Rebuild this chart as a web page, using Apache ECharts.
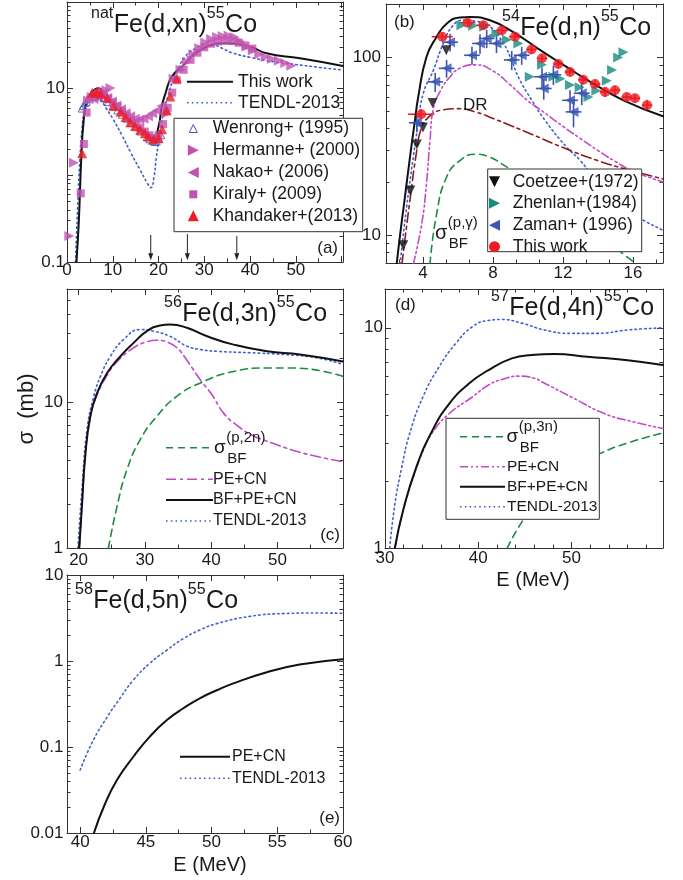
<!DOCTYPE html>
<html><head><meta charset="utf-8">
<script src="https://cdn.jsdelivr.net/npm/echarts@6/dist/echarts.min.js"></script>
<style>html,body{margin:0;padding:0;background:#fff}#chart{width:683px;height:880px}</style>
</head><body><div id="chart"></div>
<script>
// ---------- (a) natFe(d,xn)55Co ----------
const aThisE = [2.07,2.6,3.1,3.66,4.4,5.5,6.8,8.76,11.66,14.55,17.5,18.9,20.0,20.7,21.5,22.9,25.1,29.1,34.9,40,43.6,50.9,60.3];
const aThisS = [0.1,0.31,1.5,4.4,7.4,9.25,10.1,8.1,5.7,4.0,3.05,2.68,3.65,6.2,8.8,13.8,17.9,27.9,33.4,30.5,25.6,22.4,18.3];
const aTendlE = [1.85,2.3,2.8,3.3,3.8,4.5,5.5,6.5,7.5,8.5,10,12,14,16,17.5,18.3,19,19.5,20,20.5,21,22,23,24,26,28,30,32,34,36,40,45,50,55,60.3];
const aTendlS = [0.1,0.4,1.5,3.5,5.5,7,8,8,7.2,6,4.5,2.9,1.8,1.15,0.82,0.72,0.95,1.6,2.4,3.5,5,8,12,16,24,29,31.5,31.5,29,26,23,20.5,19,17.6,16.4];
const wenrong = [[3.2,5.9],[3.5,6.3],[3.9,6.8],[4.3,7.0],[6,8.0],[7,8.2],[8,7.8],[9,7.0],[10,6.3],[11,5.6],[12,5.0],[13,4.5],[14,4.0],[15,3.6],[16,3.2],[17.4,2.75],[18.0,2.6],[18.6,2.5],[19.1,2.42],[19.6,2.45],[20.1,2.6],[20.6,2.9]];
const hermanne = [[0.5,0.2],[1.5,1.4],[4.6,7.3],[5.4,8.0],[6.2,8.2],[7.0,8.6],[7.8,9.2],[8.6,9.6],[9.5,10.2],[21.8,5.2],[23.3,13.0],[24.8,16.5],[26.2,20.5],[27.6,25.0],[28.9,29.5],[30.2,34.0],[31.5,37.5],[32.8,39.5],[34.0,40.5],[35.3,41.0],[36.6,39.5],[37.9,35.0],[39.2,30.5],[40.6,27.5],[42.0,25.0],[43.4,23.2],[44.8,22.0],[46.3,21.0],[47.7,19.8],[49.0,18.4]];
const nakao = [[5.8,7.6],[6.8,8.2],[7.8,8.3],[8.8,7.8],[9.8,7.1],[10.8,6.4],[11.8,5.8],[12.8,5.2],[13.8,4.8],[14.8,4.5],[15.8,4.4],[16.7,4.5],[17.7,4.8],[18.6,5.2],[19.6,5.6],[20.6,6.3]];
const kiraly = [[3.0,0.62],[3.7,2.3],[4.3,5.3],[5.0,7.5],[6.0,8.4],[7.0,8.8],[8.0,8.5],[9.0,7.7],[10.0,6.9],[11.0,6.2],[12.0,5.5],[13.0,4.9],[14.0,4.4],[15.0,3.95],[16.0,3.55],[17.0,3.2],[18.0,2.9],[19.0,2.7],[20.0,2.9],[21.0,3.9],[22.0,6.0],[23.0,9.0],[24.0,12.5],[25.5,16.5],[27.0,21.5],[28.5,26],[30.0,30],[31.5,33],[33.0,35],[34.5,36],[36.0,35.5],[37.5,34],[39.0,31.5],[40.5,29]];
const khandaker = [[3.3,1.8],[5.5,9.0],[6.5,9.2],[7.4,8.8],[8.8,7.8],[10.2,6.3],[11.7,5.4],[12.8,4.7],[13.8,4.1],[14.9,3.7],[16.0,3.35],[17.0,3.05],[17.8,2.8],[18.9,2.6],[20.0,2.7],[20.8,3.4],[21.8,5.6],[22.6,8.1],[24.0,13.2]];
const arrowE = [18.3, 26.3, 37.1];
const arrowTop = [0.206, 0.21, 0.2];
const arrowBottom = [0.105, 0.105, 0.105];

// ---------- (b) 54Fe(d,n)55Co ----------
const bThisE = [2.5,2.69,2.97,3.26,3.54,3.73,4.2,4.78,5.35,6.1,6.69,7.83,9.16,10.7,12.2,13.73,15.45,17.71];
const bThisS = [6.9,10,16.4,27.6,44,60,100.8,130.6,155,168,169,162,139,110,88.6,71.4,57.5,46.8];
const bTendlE = [2.69,3.07,3.45,3.73,4.02,4.6,5.16,5.73,6.3,7.0,7.83,8.6,9.0,9.5,10.2,11.0,12.2,13.0,14.5,16.0,17.71];
const bTendlS = [6.9,14.5,27.6,42.5,63,85,120,152,162,160,149,120,100,76,58,44,31.4,26.3,17.2,13.2,10.7];
const bDrE = [2.8,3.0,3.3,3.6,3.9,4.3,5.0,6.0,7.0,8.0,9.0,10.0,12.0,14.0,16.0,17.71];
const bDrS = [6.9,10,17,28,40,46,50.5,51.6,49.5,45.5,41.5,37.8,31.2,26.3,23.0,20.8];
const bPeE = [3.45,3.93,4.2,4.4,4.6,5.0,5.5,6.1,7.0,8.0,9.0,10.0,10.7,12.0,13.0,14.0,15.0,16.0,17.71];
const bPeS = [6.9,11.6,19.5,34,52,65,77,87,91,84,70,57,51,41,35,30,26,23,20];
const bBfE = [4.4,4.78,5.35,6.1,7.0,7.8,8.8,10,11,12,13,14,15,16.1];
const bBfS = [6.9,13.2,21.3,26.3,28.6,27.6,24.2,20.5,17.5,14.5,12,10,8.5,7.0];
const coetzee = [[2.88,8.8],[3.28,17.9],[3.65,32.4],[4.0,40.5],[4.55,55.5],[5.33,110]];
const zhenlan = [[6.2,152],[6.87,151],[7.5,149],[8.2,136],[8.8,126],[9.45,120],[10.1,78],[10.8,91],[11.45,78],[11.85,76],[12.4,70],[12.95,68],[13.45,60],[13.9,65],[14.5,74],[14.8,85],[15.15,100],[15.45,107]];
// [E, sigma, dE, dSigma]
const zaman = [[3.65,43,0.45,5],[4.7,73,0.45,9],[5.35,87,0.45,10],[5.55,122,0.45,14],[6.8,103,0.45,12],[7.26,120,0.45,15],[7.64,128,0.45,15],[8.2,120,0.45,14],[9.07,97,0.45,12],[9.64,103,0.45,12],[10.8,78,0.45,10],[10.9,67,0.45,9],[11.45,80,0.45,10],[12.4,57.5,0.45,8],[12.6,49.5,0.45,9],[13.07,63,0.45,9]];
const thisWorkB = [[3.9,48,0.75,3],[5.1,131,0.6,7],[6.55,157,0.45,8],[7.45,152,0.4,7],[8.5,142,0.35,7],[9.26,131,0.35,6],[10.2,111,0.3,6],[10.8,99,0.3,5],[11.73,92,0.3,5],[12.4,83,0.3,4],[13.16,75,0.3,4],[13.83,71,0.3,4],[14.4,64,0.3,4],[14.97,65.5,0.3,4],[15.64,60,0.3,3],[16.11,59,0.3,3],[16.8,54,0.3,4]];

// ---------- (c) 56Fe(d,3n)55Co ----------
const cTotE = [20.1,20.5,21,21.76,22.8,24.3,26.3,28.3,30.3,32.3,33.8,36.35,39.4,43.4,48.4,53.4,59.9];
const cTotS = [1,1.93,4.26,8.0,11.6,15.9,20.7,25.6,30.8,33.7,34.2,32.5,28.4,24.9,22.4,21.3,19.1];
const cPeE = [20.1,20.5,21,21.76,22.8,24.3,25.8,28.3,30,31.8,33.5,34.8,36,37.3,38.6,40,42,44,46,48,50,53,56,59.9];
const cPeS = [1,1.93,4.2,7.9,11.3,15.3,19.0,23.7,25.8,26.7,25.8,23.8,20.5,16.8,13.8,11.5,8.3,6.9,6.0,5.5,5.1,4.6,4.25,3.9];
const cBfE = [24.5,25.8,27.3,29.3,31.8,34.8,38.4,43.4,48.4,52.4,59.9];
const cBfS = [1,1.93,3.45,5.55,8.0,11.0,13.6,16.3,17.2,17.2,15.1];
const cTendlE = [19.9,20.5,21.27,22.3,23.3,24.8,26.8,29.3,31.3,33.8,36.35,38.5,40.9,45.9,50.9,56,59.9];
const cTendlS = [1,2.5,6.5,11,15.1,20.7,27,31.6,30.8,28.4,24.3,23,22.4,21.9,21.3,20.2,18.2];

// ---------- (d) 57Fe(d,4n)55Co ----------
const dTendlE = [30.5,31.06,31.8,32.65,34.06,35.8,37.6,39.36,41.1,42.5,44.67,47.1,49.97,52.8,56,59.8];
const dTendlS = [1,1.58,2.33,3.31,4.85,6.65,8.5,10.1,10.8,10.9,10.5,9.77,9.43,9.43,9.77,10.0];
const dTotE = [31.06,31.94,33.36,35.1,36.9,39.0,41.1,43.6,45.7,48.2,51.7,56,59.8];
const dTotS = [1,1.48,2.33,3.43,4.53,5.58,6.43,7.26,7.52,7.6,7.38,7.13,6.77];
const dPeE = [31.06,31.94,33.36,34.06,35.1,36.9,39.36,41.1,42.7,44.3,46,47.1,49.97,53.5,56.5,59.8];
const dPeS = [1,1.48,2.3,2.75,3.35,4.08,4.85,5.5,5.85,6.03,5.9,5.6,4.85,4.08,3.75,3.49];
const dBfE = [43.1,45.0,47,49,51,53.1,56,59.8];
const dBfS = [1,1.38,1.75,2.1,2.4,2.69,3.0,3.33];

// ---------- (e) 58Fe(d,5n)55Co ----------
const eTendlE = [40,41,42.03,43.04,44.05,45.3,46.6,47.85,49.1,50.4,52.9,55.5,58,60];
const eTendlS = [0.054,0.12,0.22,0.37,0.6,0.94,1.34,1.82,2.29,2.72,3.3,3.56,3.62,3.58];
const ePeE = [41.05,41.8,42.8,44.05,45.3,46.6,47.85,49.1,50.4,51.66,54.2,56.7,60];
const ePeS = [0.01,0.0202,0.0413,0.077,0.132,0.206,0.282,0.368,0.457,0.55,0.74,0.91,1.05];

// ---------- axis ticks ----------
const aXLabels = [0,10,20,30,40,50];
const bXLabels = [4,8,12,16];
const cXLabels = [20,30,40,50];
const dXLabels = [30,40,50];
const eXLabels = [40,45,50,55,60];
const aYLabels = [0.1,10];
const bYLabels = [10,100];
const cYLabels = [1,10];
const dYLabels = [1,10];
const eYLabels = [0.01,0.1,1,10];

// ---------- styling ----------
const FONT = '"Liberation Sans", Arial, Helvetica, sans-serif';
const INK = '#1a1a1a';
const AXC = '#333';
const C = {
  black: '#111', tendl: '#3f5fd0', green: '#1c8a44', pe: '#c24cc4', dr: '#8a1b1b',
  mag: '#c252b2', red: '#ee1c24', teal: '#178b80', zaman: '#3a55b4'
};
const DOT = [1.6, 3.2], DASH = [7, 5], DASHDOT = [10, 4, 3, 4], DASHDOTDOT = [8, 3, 2, 3, 2, 3];

const range = (a, b, s) => { const r = []; for (let v = a; v <= b + 1e-9; v += s) r.push(+v.toFixed(6)); return r; };
const logMinor = (lo, hi) => { const r = []; for (let e = -3; e <= 3; e++) for (let m = 2; m <= 9; m++) { const v = +(m * Math.pow(10, e)).toPrecision(6); if (v > lo && v < hi) r.push(v); } return r; };
const decades = (lo, hi) => { const r = []; for (let e = -3; e <= 3; e++) { const v = +Math.pow(10, e).toPrecision(6); if (v >= lo && v <= hi) r.push(v); } return r; };
const minorBetween = (lo, hi, step, majors) => range(Math.ceil(lo / step) * step, hi, step).filter(v => !majors.some(m => Math.abs(m - v) < 1e-6));

const panels = {
  a: { grid: {left: 67, top: 2, width: 276, height: 260},
       x: {min: 0, max: 60.3, major: range(0, 60, 10), minor: range(5, 55, 10), labels: aXLabels, margin: 0},
       y: {min: 0.1, max: 100, labels: aYLabels, margin: 2} },
  b: { grid: {left: 386, top: 4, width: 277, height: 259},
       x: {min: 1.89, max: 17.71, major: [4,8,12,16], minor: [2+2/3,5+1/3,6+2/3,9+1/3,10+2/3,13+1/3,14+2/3,17+1/3], labels: bXLabels, margin: 2},
       y: {min: 7, max: 200, labels: bYLabels, margin: 5} },
  c: { grid: {left: 67, top: 289, width: 276, height: 259},
       x: {min: 18.25, max: 59.9, major: [20,30,40,50], minor: [25,35,45,55], labels: cXLabels, margin: 4},
       y: {min: 1, max: 60, labels: cYLabels, margin: 4} },
  d: { grid: {left: 385, top: 289, width: 278, height: 259},
       x: {min: 30, max: 59.8, major: [30,40,50], minor: minorBetween(30, 59.8, 2, [30,40,50]), labels: dXLabels, margin: 2},
       y: {min: 1, max: 15, labels: dYLabels, margin: 2} },
  e: { grid: {left: 67, top: 575, width: 276, height: 258},
       x: {min: 39, max: 60, major: [40,45,50,55,60], minor: [42.5,47.5,52.5,57.5], labels: eXLabels, margin: 0.5},
       y: {min: 0.01, max: 10, labels: eYLabels, margin: 3.5} }
};

const grids = [], xAxes = [], yAxes = [], idx = {};
Object.keys(panels).forEach((key, gi) => {
  const p = panels[key];
  grids.push(Object.assign({containLabel: false}, p.grid));
  idx[key] = {x: xAxes.length, y: yAxes.length};
  const yMajor = decades(p.y.min, p.y.max), yMinor = logMinor(p.y.min, p.y.max);
  ['bottom', 'top'].forEach(pos => ['major', 'minor'].forEach(kind => {
    const isMain = pos === 'bottom' && kind === 'major';
    xAxes.push({
      gridIndex: gi, type: 'value', position: pos, min: p.x.min, max: p.x.max,
      axisLine: {show: kind === 'major', onZero: false, lineStyle: {color: AXC, width: 1}},
      axisTick: {show: true, inside: true, length: kind === 'major' ? 6 : 3.5, customValues: p.x[kind], lineStyle: {color: AXC, width: 1}},
      axisLabel: {show: isMain, customValues: p.x.labels, margin: p.x.margin, fontSize: 17, fontFamily: FONT, color: INK,
        formatter: v => String(+(+v).toPrecision(6))},
      splitLine: {show: false}
    });
  }));
  ['left', 'right'].forEach(pos => ['major', 'minor'].forEach(kind => {
    const isMain = pos === 'left' && kind === 'major';
    yAxes.push({
      gridIndex: gi, type: 'log', logBase: 10, position: pos, min: p.y.min, max: p.y.max,
      axisLine: {show: kind === 'major', onZero: false, lineStyle: {color: AXC, width: 1}},
      axisTick: {show: true, inside: true, length: kind === 'major' ? 6 : 3.5, customValues: kind === 'major' ? yMajor : yMinor, lineStyle: {color: AXC, width: 1}},
      axisLabel: {show: isMain, customValues: p.y.labels, margin: p.y.margin, fontSize: 17, fontFamily: FONT, color: INK,
        formatter: v => String(+(+v).toPrecision(6))},
      splitLine: {show: false}, minorSplitLine: {show: false}
    });
  }));
});

const pair = (xs, ys) => xs.map((x, i) => [x, ys[i]]);
function curve(panel, name, xs, ys, color, dash, width) {
  return {type: 'line', name, xAxisIndex: idx[panel].x, yAxisIndex: idx[panel].y, data: pair(xs, ys),
    symbol: 'none', showSymbol: false, smooth: 0.5, clip: true, silent: true, z: 3,
    lineStyle: {color, width: width || 1.5, type: dash || 'solid', cap: 'round', join: 'round'}};
}
function points(panel, name, data, symbol, size, rotate, color, hollow) {
  return {type: 'scatter', name, xAxisIndex: idx[panel].x, yAxisIndex: idx[panel].y, data,
    symbol, symbolSize: size, symbolRotate: rotate, clip: true, silent: true, z: 4,
    itemStyle: hollow ? {color: 'rgba(0,0,0,0)', borderColor: color, borderWidth: 1} : {color}};
}
function errorBars(panel, data, color) {
  return {type: 'custom', xAxisIndex: idx[panel].x, yAxisIndex: idx[panel].y, data, clip: true, silent: true, z: 3,
    encode: {x: 0, y: 1}, itemStyle: {color},
    renderItem: (params, api) => {
      const x = api.value(0), y = api.value(1), dx = api.value(2), dy = api.value(3);
      const h0 = api.coord([x - dx, y]), h1 = api.coord([x + dx, y]);
      const v0 = api.coord([x, y - dy]), v1 = api.coord([x, y + dy]);
      const style = {stroke: color, lineWidth: 1.6};
      return {type: 'group', children: [
        {type: 'line', shape: {x1: h0[0], y1: h0[1], x2: h1[0], y2: h1[1]}, style},
        {type: 'line', shape: {x1: v0[0], y1: v0[1], x2: v1[0], y2: v1[1]}, style}
      ]};
    }};
}
function arrows(panel) {
  const data = arrowE.map((e, i) => [e, arrowTop[i], arrowBottom[i]]);
  return {type: 'custom', xAxisIndex: idx[panel].x, yAxisIndex: idx[panel].y, data, silent: true, z: 5,
    encode: {x: 0, y: 1},
    renderItem: (params, api) => {
      const t = api.coord([api.value(0), api.value(1)]), b = api.coord([api.value(0), api.value(2)]);
      return {type: 'group', children: [
        {type: 'line', shape: {x1: t[0], y1: t[1], x2: b[0], y2: b[1] - 4}, style: {stroke: '#222', lineWidth: 1}},
        {type: 'polygon', shape: {points: [[b[0] - 2.5, b[1] - 7], [b[0] + 2.5, b[1] - 7], [b[0], b[1]]]}, style: {fill: '#222'}}
      ]};
    }};
}

const series = [
  // (a)
  curve('a', 'TENDL-2013', aTendlE, aTendlS, C.tendl, DOT, 1.6),
  points('a', 'Wenrong+ (1995)', wenrong, 'triangle', 7, 0, C.zaman, true),
  points('a', 'Kiraly+ (2009)', kiraly, 'rect', 8, 0, C.mag),
  points('a', 'Nakao+ (2006)', nakao, 'triangle', 10, 90, C.mag),
  points('a', 'Hermanne+ (2000)', hermanne, 'triangle', 10, -90, C.mag),
  points('a', 'Khandaker+(2013)', khandaker, 'triangle', 10, 0, C.red),
  curve('a', 'This work', aThisE, aThisS, C.black, 'solid', 2),
  arrows('a'),
  // (b)
  curve('b', 'TENDL-2013', bTendlE, bTendlS, C.tendl, DOT, 1.6),
  curve('b', 'DR', bDrE, bDrS, C.dr, DASHDOT, 1.6),
  curve('b', 'PE+CN', bPeE, bPeS, C.pe, DASHDOTDOT, 1.6),
  curve('b', 'BF(p,g)', bBfE, bBfS, C.green, DASH, 1.6),
  errorBars('b', zaman, C.zaman),
  errorBars('b', thisWorkB, C.red),
  points('b', 'Coetzee+(1972)', coetzee, 'triangle', 10, 180, '#111'),
  points('b', 'Zhenlan+(1984)', zhenlan, 'triangle', 10, -90, C.teal),
  points('b', 'Zaman+ (1996)', zaman.map(d => [d[0], d[1]]), 'triangle', 10, 90, C.zaman),
  points('b', 'This work', thisWorkB.map(d => [d[0], d[1]]), 'circle', 10, 0, C.red),
  curve('b', 'Total', bThisE, bThisS, C.black, 'solid', 2),
  // (c)
  curve('c', 'BF(p,2n)', cBfE, cBfS, C.green, DASH, 1.6),
  curve('c', 'PE+CN', cPeE, cPeS, C.pe, DASHDOT, 1.6),
  curve('c', 'TENDL-2013', cTendlE, cTendlS, C.tendl, DOT, 1.6),
  curve('c', 'BF+PE+CN', cTotE, cTotS, C.black, 'solid', 2),
  // (d)
  curve('d', 'BF(p,3n)', dBfE, dBfS, C.green, DASH, 1.6),
  curve('d', 'PE+CN', dPeE, dPeS, C.pe, DASHDOTDOT, 1.6),
  curve('d', 'TENDL-2013', dTendlE, dTendlS, C.tendl, DOT, 1.6),
  curve('d', 'BF+PE+CN', dTotE, dTotS, C.black, 'solid', 2),
  // (e)
  curve('e', 'TENDL-2013', eTendlE, eTendlS, C.tendl, DOT, 1.6),
  curve('e', 'PE+CN', ePeE, ePeS, C.black, 'solid', 2)
];

// ---------- text and legend graphics ----------
const measure = document.createElement('canvas').getContext('2d');
const textWidth = (t, size) => { measure.font = size + 'px ' + FONT; return measure.measureText(t).width; };
const G = [];
function txt(x, y, text, size, opt) {
  opt = opt || {};
  G.push({type: 'text', x, y, z: 30, rotation: opt.rotation || 0, silent: true,
    style: {text, fontSize: size, fontFamily: FONT, fill: opt.color || INK,
      textAlign: opt.align || 'left', textVerticalAlign: 'middle', align: opt.align || 'left', verticalAlign: 'middle'}});
}
// reaction label: superscript mass numbers flowing with the main text
function reaction(x, cy, parts) {
  let cx = x;
  parts.forEach(([t, sup]) => {
    const size = sup ? 16 : 25;
    txt(cx, sup ? cy - 11 : cy, t, size);
    cx += textWidth(t, size) + (sup ? 0.5 : 0);
  });
}
// sigma with stacked sub/superscript
function sigma(x, cy, sup, size, subSize) {
  txt(x, cy, 'σ', size);
  const w = textWidth('σ', size);
  txt(x + w + 0.5, cy - 10, sup, subSize);
  txt(x + w + 1.5, cy + 11, 'BF', subSize);
}
function seg(x1, x2, y, color, dash, width) {
  G.push({type: 'line', z: 30, silent: true, shape: {x1, y1: y, x2, y2: y},
    style: {stroke: color, lineWidth: width, lineDash: dash === 'solid' ? null : dash}});
}
function box(x, y, w, h) {
  G.push({type: 'rect', z: 25, silent: true, shape: {x, y, width: w, height: h}, style: {fill: '#fff', stroke: '#333', lineWidth: 1}});
}
function marker(cx, cy, kind, color, s) {
  const h = s / 2;
  let pts;
  if (kind === 'circle') { G.push({type: 'circle', z: 30, silent: true, shape: {cx, cy, r: h}, style: {fill: color}}); return; }
  if (kind === 'square') { G.push({type: 'rect', z: 30, silent: true, shape: {x: cx - h * 0.8, y: cy - h * 0.8, width: s * 0.8, height: s * 0.8}, style: {fill: color}}); return; }
  if (kind === 'up') pts = [[cx, cy - h], [cx + h, cy + h], [cx - h, cy + h]];
  if (kind === 'down') pts = [[cx, cy + h], [cx + h, cy - h], [cx - h, cy - h]];
  if (kind === 'right') pts = [[cx + h, cy], [cx - h, cy - h], [cx - h, cy + h]];
  if (kind === 'left') pts = [[cx - h, cy], [cx + h, cy - h], [cx + h, cy + h]];
  G.push({type: 'polygon', z: 30, silent: true, shape: {points: pts}, style: {fill: color}});
}
function openUp(cx, cy, color, s) {
  const h = s / 2;
  G.push({type: 'polygon', z: 30, silent: true, shape: {points: [[cx, cy - h], [cx + h, cy + h], [cx - h, cy + h]]}, style: {fill: 'none', stroke: color, lineWidth: 1}});
}

// panel titles
reaction(91, 25, [['nat', true], ['Fe(d,xn)', false], ['55', true], ['Co', false]]);
reaction(502, 28, [['54', true], ['Fe(d,n)', false], ['55', true], ['Co', false]]);
reaction(164, 314, [['56', true], ['Fe(d,3n)', false], ['55', true], ['Co', false]]);
reaction(491, 308, [['57', true], ['Fe(d,4n)', false], ['55', true], ['Co', false]]);
reaction(75, 601, [['58', true], ['Fe(d,5n)', false], ['55', true], ['Co', false]]);

// panel tags
txt(338, 248, '(a)', 17, {align: 'right'});
txt(394, 22, '(b)', 17);
txt(340, 535, '(c)', 17, {align: 'right'});
txt(395, 305, '(d)', 17);
txt(340, 818, '(e)', 17, {align: 'right'});

// axis titles
txt(27, 409, 'σ  (mb)', 22, {rotation: Math.PI / 2, align: 'center'});
txt(533, 580, 'E (MeV)', 20, {align: 'center'});
txt(210, 865, 'E (MeV)', 20, {align: 'center'});

// (a) legends
seg(187, 233, 81.7, C.black, 'solid', 2); txt(238, 81.7, 'This work', 17.5);
seg(187, 233, 102.7, C.tendl, DOT, 1.6); txt(238, 102.7, 'TENDL-2013', 17.5);
box(174, 118.3, 188.7, 113.4);
const aRows = [128.5, 150.2, 172.4, 194.3, 215.8];
openUp(193.3, aRows[0], C.zaman, 8); txt(212.7, aRows[0], 'Wenrong+ (1995)', 17.5);
marker(193.3, aRows[1], 'right', C.mag, 11); txt(212.7, aRows[1], 'Hermanne+ (2000)', 17.5);
marker(193.3, aRows[2], 'left', C.mag, 11); txt(212.7, aRows[2], 'Nakao+ (2006)', 17.5);
marker(193.3, aRows[3], 'square', C.mag, 10); txt(212.7, aRows[3], 'Kiraly+ (2009)', 17.5);
marker(193.3, aRows[4], 'up', C.red, 11); txt(212.7, aRows[4], 'Khandaker+(2013)', 17.5);

// (b) labels and legend
txt(463, 105, 'DR', 17);
sigma(435, 233, '(p,γ)', 20, 15);
box(487.7, 169, 154, 82.7);
const bRows = [181.7, 203.3, 225.3, 246.7];
marker(494.5, bRows[0], 'down', '#111', 11); txt(512.7, bRows[0], 'Coetzee+(1972)', 17.5);
marker(494.5, bRows[1], 'right', C.teal, 11); txt(512.7, bRows[1], 'Zhenlan+(1984)', 17.5);
marker(494.5, bRows[2], 'left', C.zaman, 11); txt(512.7, bRows[2], 'Zaman+ (1996)', 17.5);
marker(494.5, bRows[3], 'circle', C.red, 11); txt(512.7, bRows[3], 'This work', 17.5);

// (c) legend
seg(166, 213, 447.7, C.green, DASH, 1.6); sigma(214, 447.7, '(p,2n)', 19, 15);
seg(166, 213, 479.3, C.pe, DASHDOT, 1.6); txt(213, 479.3, 'PE+CN', 16);
seg(166, 213, 500, C.black, 'solid', 2); txt(213, 500, 'BF+PE+CN', 16);
seg(166, 213, 521, C.tendl, DOT, 1.6); txt(213, 521, 'TENDL-2013', 16);

// (d) legend
box(446, 418.3, 153.3, 101);
seg(460, 505, 436.7, C.green, DASH, 1.6); sigma(506.5, 437, '(p,3n)', 19, 15);
seg(460, 505, 466.7, C.pe, DASHDOTDOT, 1.6); txt(507, 466.7, 'PE+CN', 15.5);
seg(460, 505, 486.7, C.black, 'solid', 2); txt(507, 486.7, 'BF+PE+CN', 15.5);
seg(460, 505, 506.7, C.tendl, DOT, 1.6); txt(507, 506.7, 'TENDL-2013', 15.5);

// (e) legend
seg(180, 230, 756.7, C.black, 'solid', 2); txt(232, 756.7, 'PE+CN', 16);
seg(180, 230, 778.3, C.tendl, DOT, 1.6); txt(232, 778.3, 'TENDL-2013', 16);

const chart = echarts.init(document.getElementById('chart'), null, {renderer: 'canvas'});
chart.setOption({
  animation: false,
  backgroundColor: '#fff',
  grid: grids,
  xAxis: xAxes,
  yAxis: yAxes,
  series,
  graphic: {elements: G}
});
</script>
</body></html>
